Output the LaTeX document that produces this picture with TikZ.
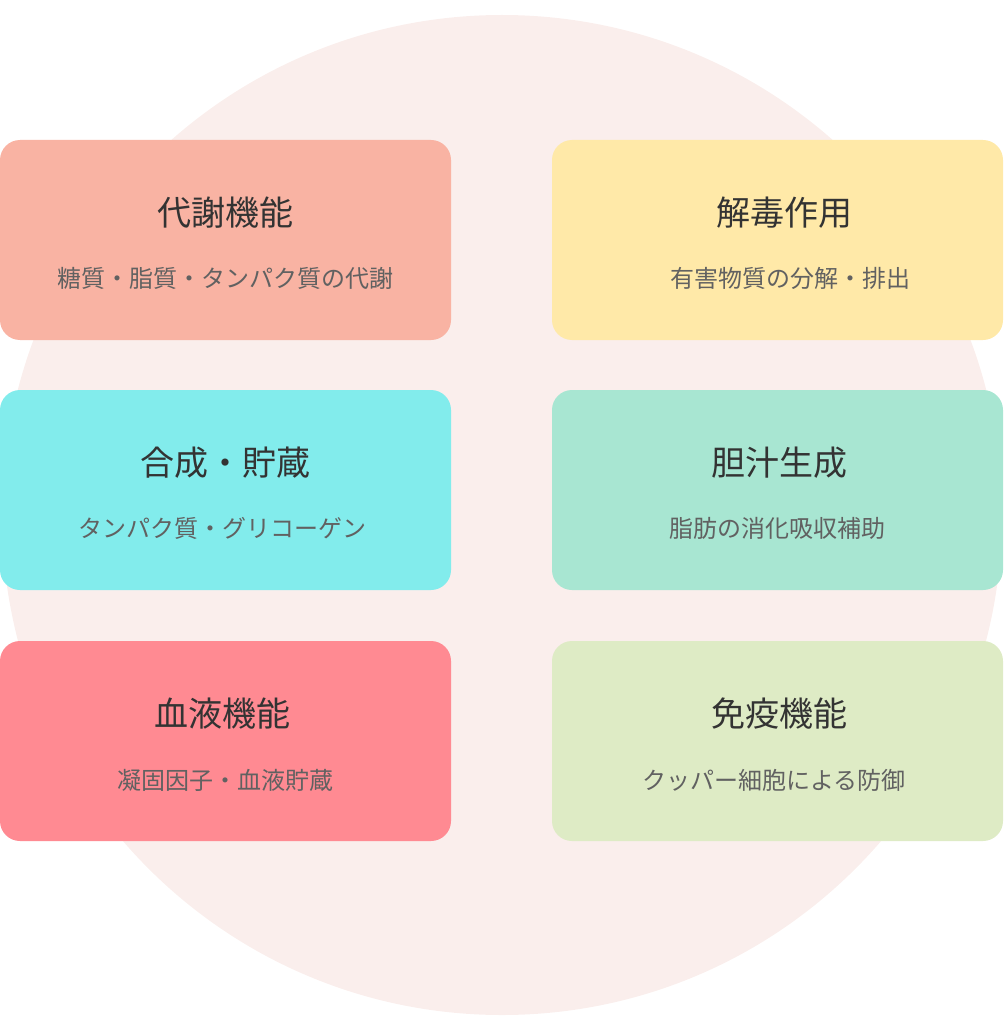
\documentclass[tikz,border=0pt]{standalone}
\usepackage{fontspec}
\setmainfont{Noto Sans CJK JP}
\begin{document}
\begin{tikzpicture}[x=1pt,y=-1pt,
  card/.style={rounded corners=20pt,draw=none},
  ttl/.style={font=\fontsize{34}{40}\selectfont,text=black!80},
  sub/.style={font=\fontsize{24}{28}\selectfont,text=black!62}]
\useasboundingbox (0,0) rectangle (1003,1024);
\fill[fill={rgb,255:red,250;green,238;blue,236}] (502,515) circle (500);
\definecolor{c1}{RGB}{249,179,163}
\definecolor{c2}{RGB}{255,233,168}
\definecolor{c3}{RGB}{130,236,236}
\definecolor{c4}{RGB}{168,230,210}
\definecolor{c5}{RGB}{255,138,146}
\definecolor{c6}{RGB}{222,235,197}
\fill[card,c1] (0,140) rectangle (451,340);
\fill[card,c2] (552,140) rectangle (1003,340);
\fill[card,c3] (0,390) rectangle (451,590);
\fill[card,c4] (552,390) rectangle (1003,590);
\fill[card,c5] (0,641) rectangle (451,841);
\fill[card,c6] (552,641) rectangle (1003,841);
\node[ttl] (t1) at (225,213) {代謝機能};
\node[sub] (s1) at (225,278) {糖質・脂質・タンパク質の代謝};
\node[ttl] (t2) at (784,213) {解毒作用};
\node[sub] (s2) at (790,278) {有害物質の分解・排出};
\node[ttl] (t3) at (225,463) {合成・貯蔵};
\node[sub] (s3) at (222,528) {タンパク質・グリコーゲン};
\node[ttl] (t4) at (779,463) {胆汁生成};
\node[sub] (s4) at (777,528) {脂肪の消化吸収補助};
\node[ttl] (t5) at (222,714) {血液機能};
\node[sub] (s5) at (225,780) {凝固因子・血液貯蔵};
\node[ttl] (t6) at (779,714) {免疫機能};
\node[sub] (s6) at (774,780) {クッパー細胞による防御};
\end{tikzpicture}
\end{document}
